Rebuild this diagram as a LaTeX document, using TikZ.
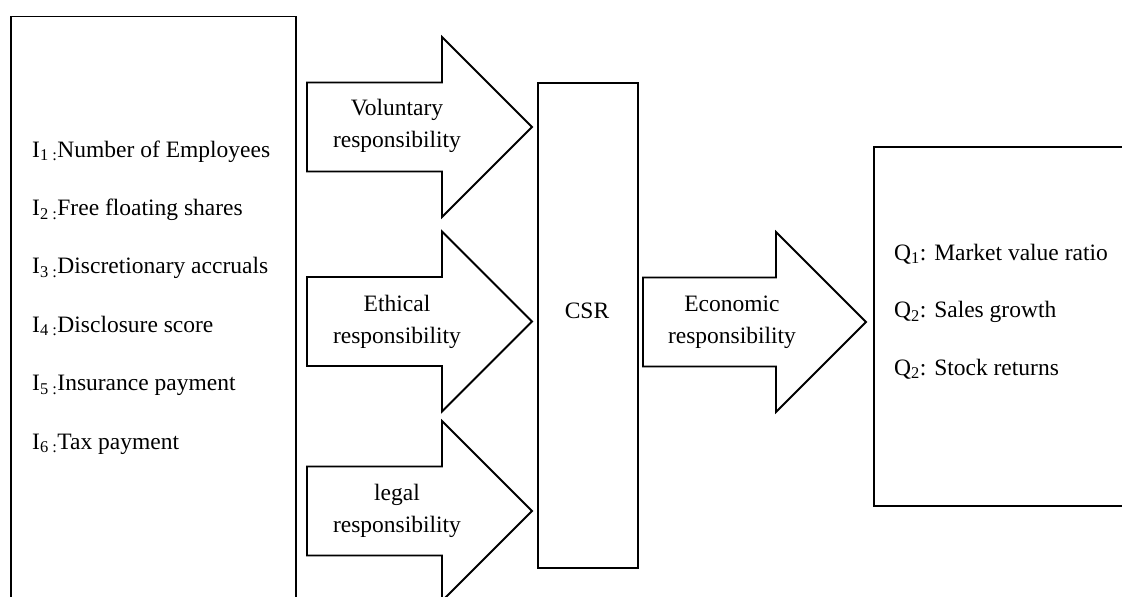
\documentclass[tikz,border=0pt]{standalone}
\usepackage{fontspec}
\setmainfont{Liberation Serif}
\newcommand\fatarrow[4]{%
  \draw[fatarrow] (#2,#3-44.5) -- (#4-90,#3-44.5) -- (#4-90,#3-90) -- (#4,#3)
    -- (#4-90,#3+90) -- (#4-90,#3+44.5) -- (#2,#3+44.5) -- cycle;
  \coordinate (#1) at (#4,#3);}
\begin{document}
\begin{tikzpicture}[x=1pt,y=-1pt,
  frame/.style={draw=black,line width=1.8pt,fill=white,inner sep=0pt},
  fatarrow/.style={draw=black,line width=1.8pt,fill=white,line join=miter},
  lbl/.style={font=\fontsize{23.5}{32}\selectfont,align=center,inner sep=0pt},
  item/.style={font=\fontsize{23.5}{28}\selectfont,anchor=base west,inner sep=0pt}]
\clip (0,0) rectangle (1122,597);
\fill[white] (0,0) rectangle (1122,597);
% boxes
\node[frame,anchor=north west,minimum width=285pt,minimum height=640pt] (inputs) at (10,15.5) {};
\node[frame,anchor=north west,minimum width=100pt,minimum height=485pt] (csr) at (537,82) {};
\node[frame,anchor=north west,minimum width=320pt,minimum height=359pt] (outputs) at (873,146) {};
% arrows
\fatarrow{volTip}{307}{127}{532}
\fatarrow{ethTip}{307}{321.5}{532}
\fatarrow{legTip}{307}{511}{532}
\fatarrow{ecoTip}{643}{322}{866}
% labels
\node[lbl] (vol) at (397,126) {Voluntary\\responsibility};
\node[lbl] (eth) at (397,321.5) {Ethical\\responsibility};
\node[lbl] (leg) at (397,510.5) {legal\\responsibility};
\node[lbl] (eco) at (732,322) {Economic\\responsibility};
\node[lbl,anchor=base] (csrtext) at (587,318) {CSR};
% inputs
\node[item] (i1) at (32,157) {I\textsubscript{1 :}Number of Employees};
\node[item] (i2) at (32,215.4) {I\textsubscript{2 :}Free floating shares};
\node[item] (i3) at (32,273.8) {I\textsubscript{3 :}Discretionary accruals};
\node[item] (i4) at (32,332.2) {I\textsubscript{4 :}Disclosure score};
\node[item] (i5) at (32,390.6) {I\textsubscript{5 :}Insurance payment};
\node[item] (i6) at (32,449) {I\textsubscript{6 :}Tax payment};
% outputs
\node[item] (q1) at (894,260) {Q\textsubscript{1}: Market value ratio};
\node[item] (q2) at (894,317.5) {Q\textsubscript{2}: Sales growth};
\node[item] (q3) at (894,375) {Q\textsubscript{2}: Stock returns};
\end{tikzpicture}
\end{document}
